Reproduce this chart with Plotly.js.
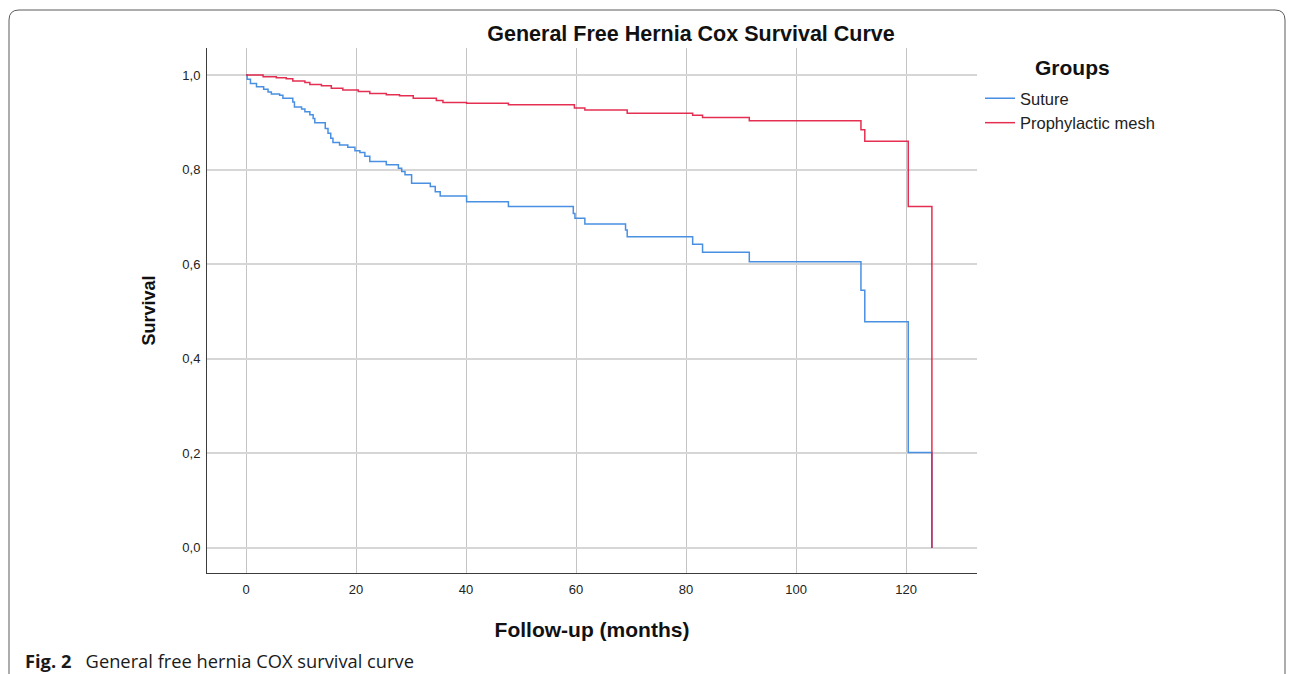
<!DOCTYPE html>
<html>
<head>
<meta charset="utf-8">
<script src="https://cdn.plot.ly/plotly-3.0.1.min.js"></script>
<style>
  html, body { margin: 0; padding: 0; background: #ffffff; }
  #chart { width: 1293px; height: 674px; }
</style>
</head>
<body>
<div id="chart"></div>
<script>
// ---- Data ----
const sutureTime = [0, 0.2, 0.8, 1.9, 3.2, 4.0, 4.6, 6.1, 6.7, 8.5, 8.8, 10.1, 10.7, 11.6, 12.2, 12.5, 14.4, 14.9, 15.4, 15.8, 17.0, 18.5, 19.8, 20.7, 21.6, 22.5, 25.5, 27.7, 28.3, 28.9, 30.1, 33.5, 34.4, 35.3, 40.1, 47.7, 59.5, 59.8, 61.6, 69.0, 69.3, 81.2, 83.0, 91.5, 111.8, 112.5, 120.4, 124.7];
const sutureSurv = [1.0, 0.991, 0.982, 0.975, 0.970, 0.964, 0.960, 0.957, 0.951, 0.943, 0.932, 0.928, 0.922, 0.916, 0.908, 0.899, 0.887, 0.877, 0.866, 0.857, 0.852, 0.847, 0.840, 0.836, 0.828, 0.817, 0.810, 0.803, 0.796, 0.789, 0.771, 0.764, 0.753, 0.744, 0.732, 0.722, 0.707, 0.697, 0.685, 0.672, 0.658, 0.642, 0.625, 0.605, 0.545, 0.478, 0.202, 0.0];

const meshTime = [0, 3.1, 5.5, 7.3, 8.5, 10.7, 11.6, 13.7, 15.5, 17.6, 20.4, 22.5, 25.5, 27.9, 30.4, 34.6, 35.8, 40.1, 47.7, 59.7, 61.6, 69.3, 81.2, 83.0, 91.5, 111.8, 112.5, 120.4, 124.7];
const meshSurv = [1.0, 0.996, 0.994, 0.992, 0.987, 0.984, 0.980, 0.977, 0.972, 0.968, 0.965, 0.961, 0.958, 0.956, 0.951, 0.946, 0.942, 0.940, 0.937, 0.930, 0.926, 0.919, 0.915, 0.910, 0.903, 0.884, 0.860, 0.722, 0.0];

const groupNames = ["Suture", "Prophylactic mesh"];
const xTickVals = [0, 20, 40, 60, 80, 100, 120];
const xTickText = ["0", "20", "40", "60", "80", "100", "120"];
const yTickVals = [0, 0.2, 0.4, 0.6, 0.8, 1.0];
const yTickText = ["0,0", "0,2", "0,4", "0,6", "0,8", "1,0"];

const chartTitle = "General Free Hernia Cox Survival Curve";
const xTitle = "Follow-up (months)";
const yTitle = "Survival";
const legendTitle = "Groups";
const captionBold = "Fig. 2";
const captionText = "General free hernia COX survival curve";

// ---- Layout helpers (pixel -> paper) ----
const W = 1293, H = 674;
const M = { l: 207, r: 316, t: 48, b: 101 };
const PW = W - M.l - M.r, PH = H - M.t - M.b;
const px = x => (x - M.l) / PW;
const py = y => (H - M.b - y) / PH;

const sans = "Liberation Sans, Arial, sans-serif";

const traces = [
  {
    x: sutureTime, y: sutureSurv, name: groupNames[0],
    type: "scatter", mode: "lines",
    line: { shape: "hv", color: "#4a90e2", width: 1.5 },
    hoverinfo: "skip"
  },
  {
    x: meshTime, y: meshSurv, name: groupNames[1],
    type: "scatter", mode: "lines",
    line: { shape: "hv", color: "#e2183f", width: 1.5 },
    opacity: 0.9,
    hoverinfo: "skip"
  }
];

// rounded frame around the figure
const fx0 = 9, fx1 = 1285, fy0 = 10, fyb = 680, rr = 10;
const framePath =
  `M ${px(fx0)},${py(fyb)} L ${px(fx0)},${py(fy0 + rr)} ` +
  `Q ${px(fx0)},${py(fy0)} ${px(fx0 + rr)},${py(fy0)} ` +
  `L ${px(fx1 - rr)},${py(fy0)} ` +
  `Q ${px(fx1)},${py(fy0)} ${px(fx1)},${py(fy0 + rr)} ` +
  `L ${px(fx1)},${py(fyb)}`;

const layout = {
  width: W, height: H,
  margin: M,
  paper_bgcolor: "#ffffff",
  plot_bgcolor: "#ffffff",
  font: { family: sans, size: 13, color: "#222222" },
  title: {
    text: "<b>" + chartTitle + "</b>",
    font: { family: sans, size: 21.5, color: "#111111" },
    xref: "container", yref: "container",
    x: 691 / W, y: 1 - 33 / H, xanchor: "center", yanchor: "middle"
  },
  xaxis: {
    range: [-7.1, 132.9],
    tickvals: xTickVals, ticktext: xTickText,
    showgrid: true, gridcolor: "#c4c4c4", gridwidth: 1,
    zeroline: false,
    showline: true, linecolor: "#3c3c3c", linewidth: 1,
    ticks: "", ticklen: 0, ticklabelstandoff: 4,
    tickfont: { family: sans, size: 13, color: "#222222" },
    title: { text: "<b>" + xTitle + "</b>", font: { family: sans, size: 21, color: "#111111" }, standoff: 26 },
    fixedrange: true
  },
  yaxis: {
    range: [-0.053, 1.057],
    tickvals: yTickVals, ticktext: yTickText,
    showgrid: true, gridcolor: "#d6d6d6", gridwidth: 2,
    zeroline: false,
    showline: true, linecolor: "#3c3c3c", linewidth: 1,
    ticks: "", ticklen: 0, ticklabelstandoff: 3,
    tickfont: { family: sans, size: 13, color: "#222222" },
    title: { text: "<b>" + yTitle + "</b>", font: { family: sans, size: 18, color: "#111111" }, standoff: 22 },
    fixedrange: true
  },
  showlegend: true,
  legend: {
    x: px(980), y: py(81), xanchor: "left", yanchor: "top",
    font: { family: sans, size: 16.5, color: "#222222" },
    bgcolor: "rgba(0,0,0,0)", borderwidth: 0,
    tracegroupgap: 0
  },
  annotations: [
    {
      text: "<b>" + legendTitle + "</b>", xref: "paper", yref: "paper",
      x: px(1072), y: py(68), xanchor: "center", yanchor: "middle",
      showarrow: false, font: { family: sans, size: 21, color: "#111111" }
    },
    {
      text: "<b>" + captionBold + "</b>\u00a0\u00a0\u00a0" + captionText,
      xref: "paper", yref: "paper",
      x: px(23), y: py(660), xanchor: "left", yanchor: "middle",
      showarrow: false, font: { family: "Open Sans, sans-serif", size: 18.3, color: "#1a1a1a" }
    }
  ],
  shapes: [
    {
      type: "path", xref: "paper", yref: "paper", path: framePath,
      line: { color: "#5a5a5a", width: 1 }, layer: "above"
    }
  ]
};

Plotly.newPlot("chart", traces, layout, { staticPlot: true, displayModeBar: false });
</script>
</body>
</html>
